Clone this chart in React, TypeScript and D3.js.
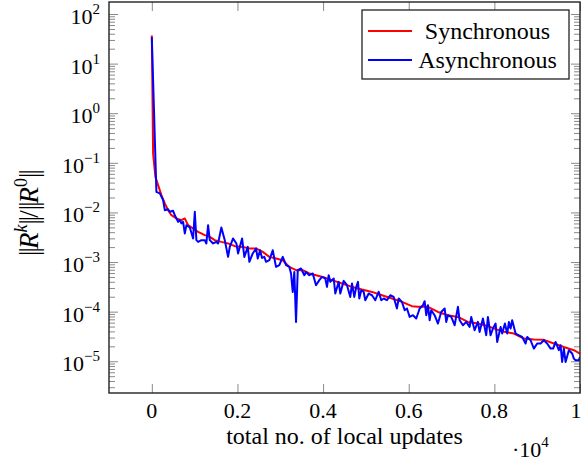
import React, { useEffect, useRef } from 'react';
import * as d3 from 'd3';

// residual history (x = total local updates)
const syncX = [0, 30, 84, 147, 224, 303, 380, 457, 574, 691, 770, 847, 964, 1081, 1237, 1354, 1470, 1624, 1781, 1937,
  2124, 2278, 2434, 2591, 2745, 2901, 3058, 3212, 3368, 3524, 3678, 3835, 3991, 4208, 4442, 4675, 4908, 5142, 5375, 5609,
  5842, 6075, 6215, 6449, 6682, 6916, 7149, 7382, 7616, 7849, 8083, 8223, 8456, 8690, 8923, 9157, 9390, 9623, 9857, 10000];
const syncY = [37, 0.155, 0.052, 0.0355, 0.0223, 0.0152, 0.0111, 0.0088, 0.00757, 0.00698,
  0.00757, 0.00553, 0.00475, 0.00406, 0.00348, 0.00322, 0.00276, 0.00255, 0.00237, 0.00209,
  0.00202, 0.00188, 0.00188, 0.0016, 0.00127, 0.00118, 0.00109, 0.000798, 0.000685, 0.000685,
  0.000587, 0.000543, 0.000501, 0.000431, 0.000369, 0.000315, 0.000279, 0.00025, 0.000214, 0.000184,
  0.000157, 0.000129, 0.000125, 0.000125, 9.87e-5, 8.47e-5, 7.82e-5, 6.21e-5, 5.75e-5, 5.1e-5,
  4.3e-5, 3.95e-5, 3.62e-5, 2.87e-5, 2.74e-5, 2.7e-5, 2.28e-5, 1.94e-5, 1.67e-5, 1.43e-5];

const asyncX = [0, 107, 187, 264, 303, 380, 420, 497, 537, 614, 654, 691, 731, 770, 808, 887, 964, 1004, 1041, 1081,
  1158, 1237, 1274, 1314, 1354, 1431, 1508, 1547, 1624, 1704, 1781, 1821, 1898, 1975, 2014, 2108, 2161, 2241, 2278, 2357,
  2434, 2474, 2528, 2574, 2628, 2668, 2745, 2824, 2901, 2978, 3058, 3135, 3212, 3251, 3291, 3328, 3368, 3408, 3485, 3562,
  3601, 3678, 3758, 3835, 3912, 3975, 4052, 4091, 4131, 4168, 4248, 4285, 4365, 4402, 4481, 4558, 4635, 4675, 4729, 4775,
  4815, 4845, 4892, 4948, 4985, 5065, 5142, 5219, 5298, 5359, 5415, 5492, 5569, 5648, 5725, 5765, 5842, 5905, 5959, 6022,
  6099, 6176, 6255, 6332, 6372, 6409, 6449, 6489, 6526, 6605, 6682, 6759, 6839, 6876, 6916, 6993, 7072, 7149, 7189, 7266,
  7343, 7422, 7460, 7539, 7616, 7655, 7733, 7810, 7849, 7912, 7966, 8029, 8066, 8146, 8183, 8246, 8300, 8340, 8379, 8416,
  8496, 8573, 8650, 8729, 8767, 8846, 8923, 9000, 9079, 9157, 9233, 9313, 9373, 9429, 9506, 9546, 9583, 9623, 9663, 9740,
  9817, 9857, 9896, 9973, 10000];
const asyncY = [33.9, 0.026, 0.0242, 0.0177, 0.0111, 0.0116, 0.0103, 0.0108, 0.0088, 0.00646,
  0.00698, 0.006, 0.00646, 0.00377, 0.00553, 0.00498, 0.00299, 0.0103, 0.00276, 0.00255,
  0.00276, 0.00276, 0.00237, 0.00553, 0.00276, 0.00237, 0.00255, 0.00237, 0.00498, 0.00276,
  0.00127, 0.00202, 0.00299, 0.00237, 0.00149, 0.00299, 0.00127, 0.00202, 0.00101, 0.00149,
  0.00188, 0.00118, 0.00173, 0.00121, 0.00127, 0.00101, 0.00109, 0.00173, 0.000798, 0.000863,
  0.00127, 0.000863, 0.000798, 0.000587, 0.00025, 0.000632, 6.2e-5, 0.000685, 0.000741, 0.000543,
  0.000632, 0.000543, 0.000587, 0.000341, 0.000431, 0.000501, 0.000466, 0.000315, 0.000543, 0.000398,
  0.000466, 0.000232, 0.000398, 0.000232, 0.000417, 0.000341, 0.000198, 0.000369, 0.000198, 0.000315,
  0.000398, 0.000184, 0.00027, 0.00025, 0.00017, 0.000232, 0.000214, 0.00017, 0.00025, 0.00017,
  0.000184, 0.00017, 0.000214, 0.000198, 0.000116, 0.000184, 0.000157, 0.000107, 0.000116, 7.83e-5,
  8.47e-5, 7.26e-5, 0.000116, 0.000135, 0.000162, 8.47e-5, 0.000135, 6.71e-5, 0.000107, 8.47e-5,
  5.75e-5, 9.87e-5, 0.000116, 6.21e-5, 8.47e-5, 7.82e-5, 5.32e-5, 0.000125, 6.71e-5, 5.32e-5,
  6.21e-5, 4.92e-5, 7.82e-5, 4.22e-5, 6.21e-5, 3.9e-5, 7.26e-5, 3.34e-5, 7.82e-5, 3.34e-5,
  4.56e-5, 5.75e-5, 2.45e-5, 4.92e-5, 3.62e-5, 5.75e-5, 3.62e-5, 6.21e-5, 4.56e-5, 6.71e-5,
  3.62e-5, 3.34e-5, 3.09e-5, 2.28e-5, 3.09e-5, 2.65e-5, 1.8e-5, 2.28e-5, 2.28e-5, 2.65e-5,
  2.28e-5, 1.8e-5, 1.8e-5, 2.45e-5, 1.67e-5, 2.1e-5, 9.7e-6, 1.8e-5, 9.7e-6, 1.67e-5,
  1.43e-5, 1.13e-5, 1.05e-5, 1.05e-5, 1.22e-5];

const xTicks = [0, 2000, 4000, 6000, 8000, 10000];
const xTickLabels = ['0', '0.2', '0.4', '0.6', '0.8', '1'];
const yExponents = [-5, -4, -3, -2, -1, 0, 1, 2];
const seriesNames = ['Synchronous', 'Asynchronous'];
const seriesColors = ['#ff0000', '#0000ff'];

const W = 582;
const H = 464;
const margin = { top: 2, right: 2, bottom: 71, left: 109 };
const FONT = 'Liberation Serif';

export default function App() {
  const ref = useRef<SVGSVGElement>(null);

  useEffect(() => {
    const svg = d3.select(ref.current);
    svg.selectAll('*').remove();

    const iw = W - margin.left - margin.right;
    const ih = H - margin.top - margin.bottom;

    const x = d3.scaleLinear().domain([-1000, 10000]).range([0, iw]);
    const y = d3.scaleLog().domain([10 ** -5.64, 10 ** 2.242]).range([ih, 0]);

    const majorY = yExponents.map(e => 10 ** e);
    const minorY: number[] = [];
    for (let e = -6; e <= 2; e++) {
      for (let m = 2; m <= 9; m++) {
        const v = m * 10 ** e;
        if (v > y.domain()[0] && v < y.domain()[1]) minorY.push(v);
      }
    }

    const g = svg.append('g').attr('transform', `translate(${margin.left},${margin.top})`);

    g.append('clipPath').attr('id', 'plot-clip')
      .append('rect').attr('width', iw).attr('height', ih);

    const styleAxis = (sel: any) => {
      sel.select('.domain').remove();
      sel.selectAll('.tick line').attr('stroke', '#8a8a8a').attr('stroke-width', 1);
    };

    // x ticks (inside, bottom + top)
    g.append('g')
      .attr('transform', `translate(0,${ih})`)
      .call(d3.axisBottom(x).tickValues(xTicks).tickSize(-9).tickFormat(() => ''))
      .call(styleAxis);
    g.append('g')
      .call(d3.axisTop(x).tickValues(xTicks).tickSize(-9).tickFormat(() => ''))
      .call(styleAxis);

    // y ticks (inside, left + right)
    g.append('g').call(d3.axisLeft(y).tickValues(majorY).tickSize(-9).tickFormat(() => '')).call(styleAxis);
    g.append('g').call(d3.axisLeft(y).tickValues(minorY).tickSize(-6).tickFormat(() => '')).call(styleAxis);
    g.append('g').attr('transform', `translate(${iw},0)`)
      .call(d3.axisRight(y).tickValues(majorY).tickSize(-9).tickFormat(() => '')).call(styleAxis);
    g.append('g').attr('transform', `translate(${iw},0)`)
      .call(d3.axisRight(y).tickValues(minorY).tickSize(-6).tickFormat(() => '')).call(styleAxis);

    // x tick labels (the last one sits on the page edge, as in the original)
    g.append('g')
      .selectAll('text')
      .data(xTicks)
      .join('text')
      .attr('x', (d, i) => (i === xTicks.length - 1 ? Math.min(x(d), W - margin.left - 6) : x(d)))
      .attr('y', ih + 25)
      .attr('text-anchor', 'middle')
      .attr('font-family', FONT)
      .attr('font-size', 22)
      .attr('fill', '#000')
      .text((d, i) => xTickLabels[i]);

    // y tick labels 10^e
    const yl = g.append('g')
      .selectAll('text')
      .data(yExponents)
      .join('text')
      .attr('x', -9)
      .attr('y', d => y(10 ** d) + 10)
      .attr('text-anchor', 'end')
      .attr('font-family', FONT)
      .attr('font-size', 22)
      .attr('fill', '#000');
    yl.append('tspan').text('10');
    yl.append('tspan')
      .attr('dy', -10)
      .attr('font-size', 15)
      .text(d => (d < 0 ? '\u2212' + Math.abs(d) : String(d)));

    // lines
    const line = d3.line<[number, number]>()
      .x(d => x(d[0]))
      .y(d => y(d[1]));

    const series = [
      syncX.map((v, i) => [v, syncY[i]] as [number, number]),
      asyncX.map((v, i) => [v, asyncY[i]] as [number, number]),
    ];

    g.append('g')
      .attr('clip-path', 'url(#plot-clip)')
      .selectAll('path')
      .data(series)
      .join('path')
      .attr('fill', 'none')
      .attr('stroke', (d, i) => seriesColors[i])
      .attr('stroke-width', 2)
      .attr('stroke-linejoin', 'round')
      .attr('d', line);

    // frame
    g.append('rect')
      .attr('width', iw)
      .attr('height', ih)
      .attr('fill', 'none')
      .attr('stroke', '#222')
      .attr('stroke-width', 1.4);

    // legend
    const lg = g.append('g').attr('transform', `translate(${362 - margin.left},${10 - margin.top})`);
    lg.append('rect')
      .attr('width', 207)
      .attr('height', 69)
      .attr('fill', '#fff')
      .attr('stroke', '#222')
      .attr('stroke-width', 1.3);
    const items = lg.selectAll('g.item')
      .data(seriesNames)
      .join('g')
      .attr('class', 'item')
      .attr('transform', (d, i) => `translate(0,${21 + i * 29})`);
    items.append('line')
      .attr('x1', 6).attr('x2', 50)
      .attr('stroke', (d, i) => seriesColors[i])
      .attr('stroke-width', 2);
    items.append('text')
      .attr('x', 125.5)
      .attr('y', 8)
      .attr('text-anchor', 'middle')
      .attr('font-family', FONT)
      .attr('font-size', 24)
      .attr('fill', '#000')
      .text(d => d);

    // axis labels
    svg.append('text')
      .attr('x', margin.left + iw / 2)
      .attr('y', 444)
      .attr('text-anchor', 'middle')
      .attr('font-family', FONT)
      .attr('font-size', 24)
      .attr('fill', '#000')
      .text('total no. of local updates');

    const sc = svg.append('text')
      .attr('x', 512)
      .attr('y', 457)
      .attr('font-family', FONT)
      .attr('font-size', 22)
      .attr('fill', '#000');
    sc.append('tspan').text('\u00b710');
    sc.append('tspan').attr('dy', -10).attr('font-size', 15).text('4');

    const ylab = svg.append('text')
      .attr('transform', `translate(38,${margin.top + ih / 2 + 16}) rotate(-90)`)
      .attr('text-anchor', 'middle')
      .attr('font-family', FONT)
      .attr('font-size', 27)
      .attr('fill', '#000');
    ylab.append('tspan').attr('letter-spacing', -2).text('||');
    ylab.append('tspan').attr('font-style', 'italic').text('R');
    ylab.append('tspan').attr('font-style', 'italic').attr('font-size', 18).attr('dy', -11).text('k');
    ylab.append('tspan').attr('dy', 11).attr('letter-spacing', -2).text('||');
    ylab.append('tspan').text('/');
    ylab.append('tspan').attr('letter-spacing', -2).text('||');
    ylab.append('tspan').attr('font-style', 'italic').text('R');
    ylab.append('tspan').attr('font-size', 18).attr('dy', -11).text('0');
    ylab.append('tspan').attr('dy', 11).attr('letter-spacing', -2).text('||');
  }, []);

  return (
    <svg
      ref={ref}
      width={W}
      height={H}
      style={{ position: 'absolute', left: 0, top: 0, background: '#fff' }}
    />
  );
}
